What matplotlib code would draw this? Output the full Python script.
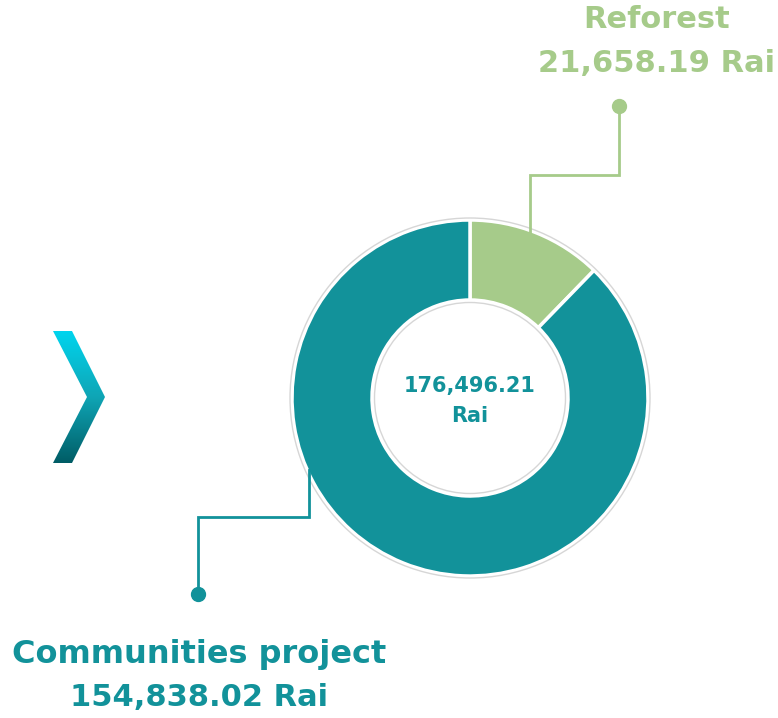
import matplotlib
matplotlib.use("Agg")
import matplotlib.pyplot as plt
import numpy as np
from matplotlib.patches import Polygon, Circle
from matplotlib.colors import LinearSegmentedColormap

categories = ["Reforest", "Communities project"]
values = [21658.19, 154838.02]
unit = "Rai"
colors = ["#a6cb8a", "#12929a"]

W, H = 778, 718
fig = plt.figure(figsize=(W / 100, H / 100), dpi=100)
ax = fig.add_axes([0, 0, 1, 1])

def Y(py):
    return H - py

cx, cy, R, r_in = 470, Y(398), 178, 98
ax.pie(values, colors=colors, startangle=90, counterclock=False,
       center=(cx, cy), radius=R, frame=True,
       wedgeprops=dict(width=R - r_in, edgecolor="white", linewidth=2.5))
ax.set_xlim(0, W)
ax.set_ylim(0, H)
ax.set_aspect("equal")
ax.axis("off")
ax.add_patch(Circle((cx, cy), R + 2, fill=False, edgecolor="#d6d6d6", lw=1))
ax.add_patch(Circle((cx, cy), r_in - 2.5, fill=False, edgecolor="#d6d6d6", lw=1))

font = "DejaVu Sans"
total = sum(values)
ax.text(cx, Y(386), f"{total:,.2f}", ha="center", va="center", fontsize=15,
        fontweight="bold", color=colors[1], family=font)
ax.text(cx, Y(416), unit, ha="center", va="center", fontsize=15,
        fontweight="bold", color=colors[1], family=font)

# Reforest leader
lx = [619, 619, 530, 530]
ly = [106, 175, 175, 243]
ax.plot(lx, [Y(v) for v in ly], color=colors[0], lw=2, solid_joinstyle="miter")
ax.plot(619, Y(106), "o", color=colors[0], ms=10)
ax.text(657, Y(20), categories[0], ha="center", va="center", fontsize=22,
        fontweight="bold", color=colors[0], family=font)
ax.text(657, Y(63), f"{values[0]:,.2f} {unit}", ha="center", va="center", fontsize=22,
        fontweight="bold", color=colors[0], family=font)

# Communities leader
lx = [198, 198, 309, 309]
ly = [594, 517, 517, 470]
ax.plot(lx, [Y(v) for v in ly], color=colors[1], lw=2, solid_joinstyle="miter")
ax.plot(198, Y(594), "o", color=colors[1], ms=10)
ax.text(199, Y(655), categories[1], ha="center", va="center", fontsize=23,
        fontweight="bold", color=colors[1], family=font)
ax.text(199, Y(697), f"{values[1]:,.2f} {unit}", ha="center", va="center", fontsize=22,
        fontweight="bold", color=colors[1], family=font)

# Chevron with gradient
pts = [(53, 331), (72, 331), (105, 397), (72, 463), (53, 463), (87, 397)]
poly = Polygon([(x, Y(y)) for x, y in pts], closed=True, facecolor="none", edgecolor="none")
ax.add_patch(poly)
grad = np.linspace(0, 1, 256).reshape(-1, 1)
cmap = LinearSegmentedColormap.from_list("g", ["#00d6f0", "#0fa5b5", "#005a63"])
im = ax.imshow(grad, cmap=cmap, extent=(50, 108, Y(465), Y(329)), origin="upper",
               aspect="auto", zorder=2)
im.set_clip_path(poly)
ax.set_xlim(0, W)
ax.set_ylim(0, H)

fig.savefig("out.png", dpi=100)
